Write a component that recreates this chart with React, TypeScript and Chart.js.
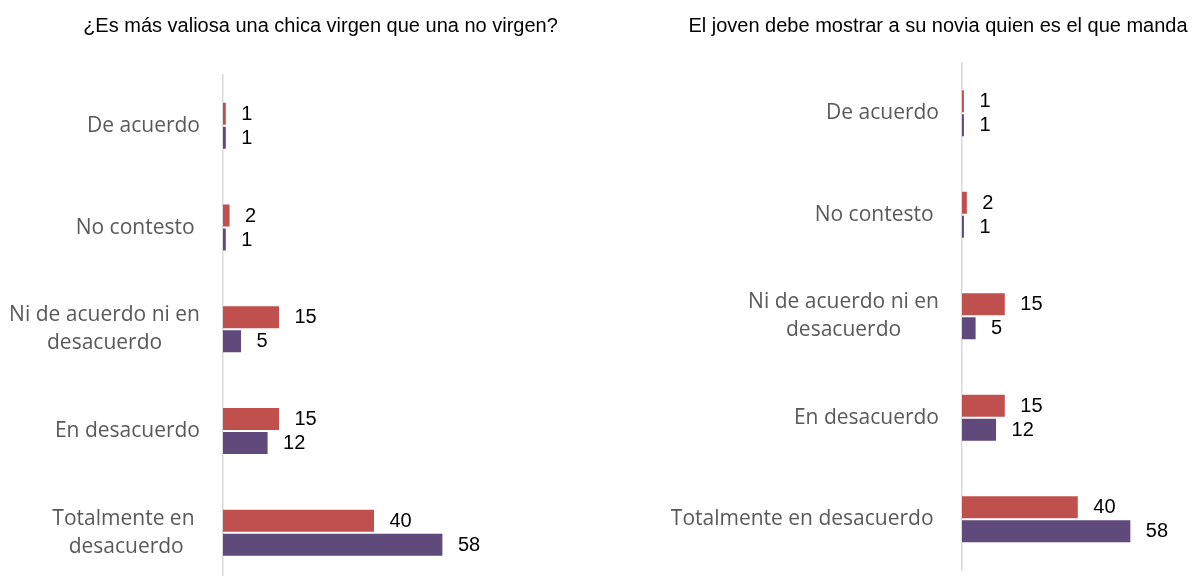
import { useEffect, useRef } from "react";
import { Chart, registerables } from "chart.js";

Chart.register(...registerables);

// ---- data ----
const leftTitle = "¿Es más valiosa una chica virgen que una no virgen?";
const rightTitle = "El joven debe mostrar a su novia quien es el que manda";

const leftCategories = [
  ["De acuerdo"],
  ["No contesto "],
  ["Ni de acuerdo ni en", "desacuerdo"],
  ["En desacuerdo"],
  ["Totalmente en ", "desacuerdo"],
];
const rightCategories = [
  ["De acuerdo"],
  ["No contesto "],
  ["Ni de acuerdo ni en", "desacuerdo"],
  ["En desacuerdo"],
  ["Totalmente en desacuerdo "],
];

const seriesNames = ["Serie 1", "Serie 2"];
const leftRed = [1, 2, 15, 15, 40];
const leftPurple = [1, 1, 5, 12, 58];
const rightRed = [1, 2, 15, 15, 40];
const rightPurple = [1, 1, 5, 12, 58];

const RED = "#C0504D";
const PURPLE = "#604A7B";

const labelPlugin = {
  id: "customLabels",
  afterDatasetsDraw(chart: any, _args: any, opts: any) {
    const { ctx, chartArea } = chart;
    const yScale = chart.scales.y;
    const cats = chart.data.labels as any[];
    ctx.save();
    ctx.font = "21px 'Open Sans'";
    ctx.fillStyle = "#595959";
    ctx.textBaseline = "middle";
    ctx.textAlign = "center";
    cats.forEach((lines: any, i: number) => {
      const arr: string[] = Array.isArray(lines) ? lines : [lines];
      const w = Math.max(...arr.map((l) => ctx.measureText(l).width));
      const cx = chartArea.left - opts.labelGap - w / 2;
      const cy = yScale.getPixelForValue(i) + opts.labelDy;
      arr.forEach((l, j) => {
        ctx.fillText(l, cx, cy + (j - (arr.length - 1) / 2) * opts.lineHeight);
      });
    });
    ctx.font = "20px 'Liberation Sans', Arial";
    ctx.fillStyle = "#000000";
    ctx.textAlign = "left";
    chart.data.datasets.forEach((ds: any, di: number) => {
      const meta = chart.getDatasetMeta(di);
      meta.data.forEach((el: any, i: number) => {
        ctx.fillText(String(ds.data[i]), el.x + 14.5, el.y + 0.5);
      });
    });
    ctx.restore();
  },
};

function makeConfig(
  title: string,
  cats: string[][],
  red: number[],
  purple: number[],
  cfg: { axisX: number; max: number; titleBottom: number; padBottom: number }
): any {
  return {
    type: "bar",
    data: {
      labels: cats,
      datasets: [
        {
          label: seriesNames[0],
          data: red,
          backgroundColor: RED,
          borderColor: "rgba(255,255,255,0.22)",
          borderWidth: 1,
        },
        {
          label: seriesNames[1],
          data: purple,
          backgroundColor: PURPLE,
          borderColor: "rgba(255,255,255,0.18)",
          borderWidth: 1,
        },
      ],
    },
    options: {
      indexAxis: "y",
      animation: false,
      responsive: false,
      maintainAspectRatio: false,
      layout: { padding: { top: 0, left: 0, right: 0, bottom: cfg.padBottom } },
      datasets: { bar: { categoryPercentage: 0.472, barPercentage: 1 } },
      plugins: {
        legend: { display: false },
        tooltip: { enabled: false },
        title: {
          display: true,
          text: title,
          color: "#000000",
          font: { family: "'Liberation Sans', Arial", size: 20, weight: "normal", lineHeight: 1.2 },
          padding: { top: 14, bottom: cfg.titleBottom },
        },
        customLabels: { labelGap: 23, lineHeight: 28, labelDy: 0 },
      },
      scales: {
        x: { display: false, min: 0, max: cfg.max },
        y: {
          afterFit: (s: any) => {
            s.width = cfg.axisX;
          },
          grid: { display: false, drawTicks: false },
          ticks: { display: false },
          border: { display: true, color: "#D9D9D9", width: 1.5 },
        },
      },
    },
    plugins: [labelPlugin],
  };
}

export default function App() {
  const leftRef = useRef<HTMLCanvasElement | null>(null);
  const rightRef = useRef<HTMLCanvasElement | null>(null);

  useEffect(() => {
    const c1 = new Chart(
      leftRef.current as HTMLCanvasElement,
      makeConfig(leftTitle, leftCategories, leftRed, leftPurple, {
        axisX: 223,
        max: 110,
        titleBottom: 37,
        padBottom: 16.5,
      })
    );
    const c2 = new Chart(
      rightRef.current as HTMLCanvasElement,
      makeConfig(rightTitle, rightCategories, rightRed, rightPurple, {
        axisX: 321,
        max: 93.5,
        titleBottom: 24.5,
        padBottom: 6,
      })
    );
    return () => {
      c1.destroy();
      c2.destroy();
    };
  }, []);

  return (
    <div
      style={{
        position: "absolute",
        left: 0,
        top: 0,
        width: 1192,
        height: 576,
        overflow: "hidden",
        background: "#ffffff",
      }}
    >
      <canvas
        ref={leftRef}
        width={641}
        height={600}
        style={{ position: "absolute", left: 0, top: 0, width: 641, height: 600 }}
      />
      <canvas
        ref={rightRef}
        width={594}
        height={576}
        style={{ position: "absolute", left: 641, top: 0, width: 594, height: 576 }}
      />
    </div>
  );
}
